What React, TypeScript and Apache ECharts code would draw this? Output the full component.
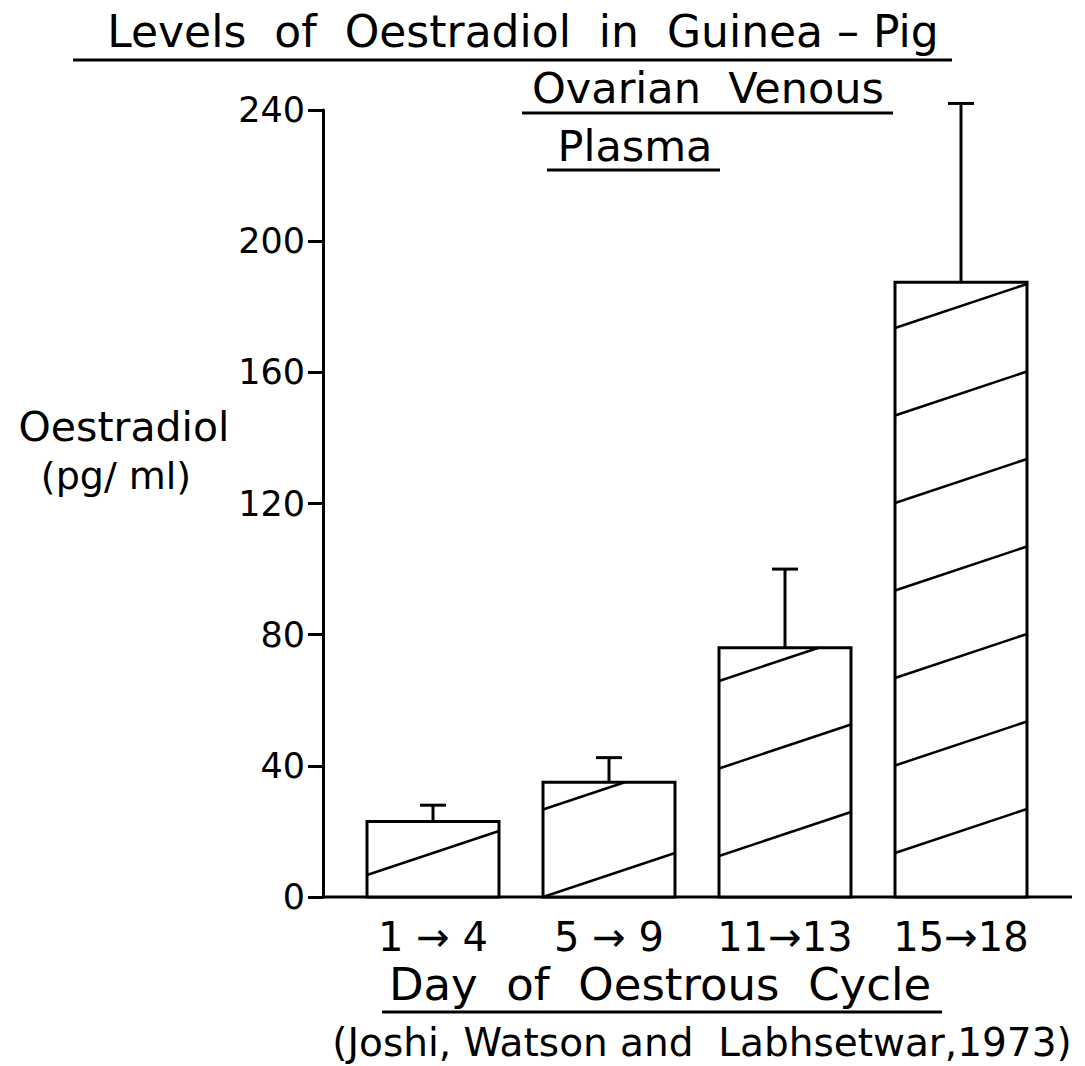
import React, { useEffect, useRef } from "react";
import * as echarts from "echarts";

// ---- data ----
const categories = ["1 → 4", "5 → 9", "11→13", "15→18"];
const meanValues = [23, 35, 76, 187.5];
const errorTops = [28, 42.5, 100, 242];
const yMin = 0;
const yMax = 240;
const yInterval = 40;

// ---- styling constants (pixels) ----
const FONT = "DejaVu Sans";
const hatchPhase = [22, 0, 41, 44];
const HATCH_SPACING = 87.5;
const BAR_RATIO = 0.75;

export default function App() {
  const ref = useRef<HTMLDivElement>(null);

  useEffect(() => {
    const chart = echarts.init(ref.current!, null, { renderer: "svg" });

    const renderItem = (params: any, api: any) => {
      const i = params.dataIndex;
      const xv = api.value(0);
      const base = api.coord([xv, 0]);
      const top = api.coord([xv, api.value(1)]);
      const err = api.coord([xv, api.value(2)]);
      const bw = api.size([1, 0])[0] * BAR_RATIO;
      const cx = base[0];
      const x0 = cx - bw / 2;
      const yb = base[1];
      const yt = top[1];
      const rise = bw / 3;
      const s = rise / bw;
      const children: any[] = [];
      children.push({
        type: "rect",
        shape: { x: x0, y: yt, width: bw, height: yb - yt },
        style: { fill: "#fff", stroke: "#000", lineWidth: 3 },
      });
      for (let k = -2; k < 20; k++) {
        const c = yb - hatchPhase[i] - k * HATCH_SPACING;
        const t0 = Math.max(0, (c - yb) / s);
        const t1 = Math.min(bw, (c - yt) / s);
        if (t1 > t0 + 1) {
          children.push({
            type: "line",
            shape: { x1: x0 + t0, y1: c - s * t0, x2: x0 + t1, y2: c - s * t1 },
            style: { stroke: "#000", lineWidth: 2.5 },
          });
        }
      }
      children.push({
        type: "line",
        shape: { x1: cx, y1: yt, x2: cx, y2: err[1] },
        style: { stroke: "#000", lineWidth: 3 },
      });
      children.push({
        type: "line",
        shape: { x1: cx - 13, y1: err[1], x2: cx + 13, y2: err[1] },
        style: { stroke: "#000", lineWidth: 3 },
      });
      return { type: "group", children };
    };

    const txt = (text: string, x: number, y: number, size: number) => ({
      type: "text",
      x,
      y,
      style: {
        text,
        font: `${size}px "${FONT}"`,
        fill: "#000",
        align: "center",
        verticalAlign: "middle",
      },
    });
    const ln = (x1: number, y1: number, x2: number, y2: number, w = 3) => ({
      type: "line",
      shape: { x1, y1, x2, y2 },
      style: { stroke: "#000", lineWidth: w },
    });

    chart.setOption({
      animation: false,
      backgroundColor: "#fff",
      textStyle: { fontFamily: FONT },
      grid: { left: 345, top: 110, width: 704, height: 787 },
      xAxis: {
        type: "category",
        data: categories,
        axisLine: { show: false },
        axisTick: { show: false },
        axisLabel: {
          color: "#000",
          fontSize: 40,
          fontFamily: FONT,
          margin: 40,
          verticalAlign: "middle",
          interval: 0,
        },
      },
      yAxis: {
        type: "value",
        min: yMin,
        max: yMax,
        interval: yInterval,
        offset: 22,
        splitLine: { show: false },
        axisLine: { show: true, lineStyle: { color: "#000", width: 3 } },
        axisTick: { show: true, length: 15, lineStyle: { color: "#000", width: 3 } },
        axisLabel: { color: "#000", fontSize: 35, fontFamily: FONT, margin: 18 },
      },
      series: [
        {
          type: "custom",
          renderItem,
          encode: { x: 0, y: 1 },
          data: meanValues.map((v, i) => [i, v, errorTops[i]]),
          clip: false,
        },
      ],
      graphic: [
        txt("Levels  of  Oestradiol  in  Guinea – Pig", 523, 31, 44),
        ln(73, 60, 952, 60),
        txt("Ovarian  Venous", 708, 88, 43),
        ln(522, 113, 893, 113),
        txt("Plasma", 635, 146, 43),
        ln(547, 170, 720, 170),
        txt("Oestradiol", 124, 427, 41),
        txt("(pg/ ml)", 116, 476, 38),
        ln(323, 897, 1072, 897),
        txt("Day  of  Oestrous  Cycle", 660, 984, 45),
        ln(382, 1012, 942, 1012),
        txt("(Joshi, Watson and  Labhsetwar,1973)", 702, 1042, 39),
      ],
    });

    return () => chart.dispose();
  }, []);

  return (
    <div
      ref={ref}
      style={{ position: "fixed", left: 0, top: 0, width: 1085, height: 1066, background: "#fff" }}
    />
  );
}
